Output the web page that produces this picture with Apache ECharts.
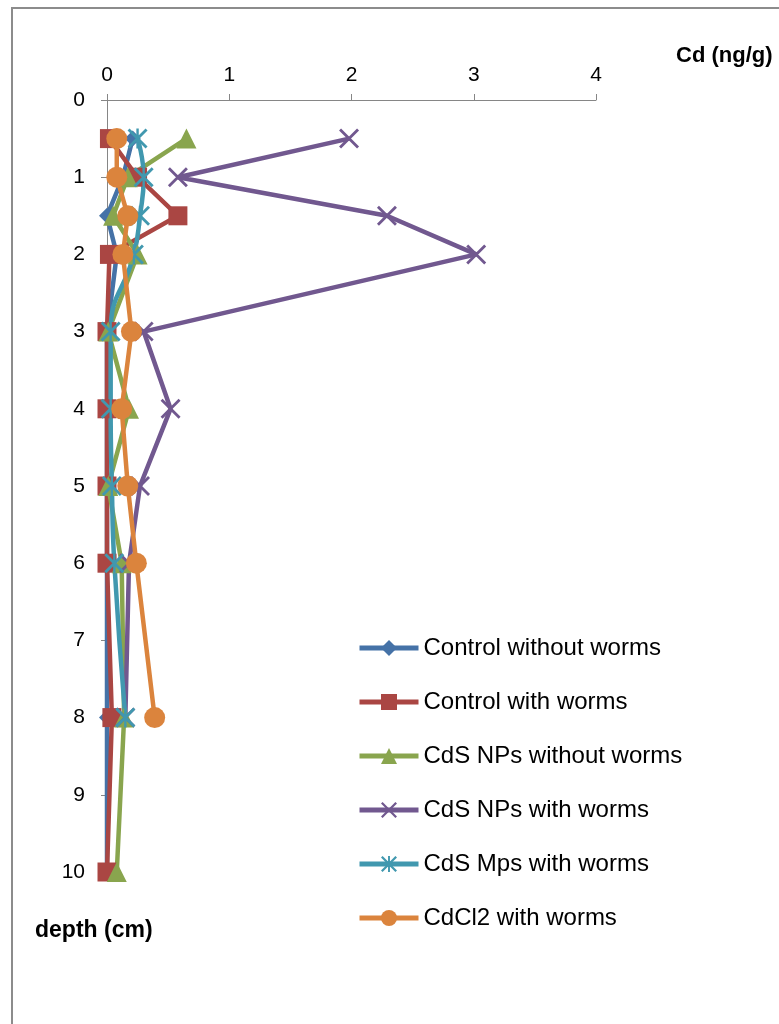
<!DOCTYPE html>
<html>
<head>
<meta charset="utf-8">
<script src="https://cdn.jsdelivr.net/npm/echarts@6/dist/echarts.min.js"></script>
<style>
  html, body { margin: 0; padding: 0; background: #fff; }
  #depthChart { width: 779px; height: 1024px; }
</style>
</head>
<body>
<div id="depthChart"></div>
<script>
// depth (cm) of each sampled layer
var depths = [0.5, 1, 1.5, 2, 3, 4, 5, 6, 8, 10]

// Cd (ng/g) per layer, one list per treatment
var controlWithout = [0.21, 0.13, 0, 0.08, 0, 0, 0, 0, 0, 0]
var controlWith = [0.02, 0.25, 0.58, 0.02, 0, 0, 0, 0, 0.04, 0]
var npsWithout = [0.65, 0.17, 0.05, 0.25, 0.01, 0.18, 0.01, 0.12, 0.14, 0.08]
var npsWith = [1.98, 0.58, 2.29, 3.02, 0.3, 0.52, 0.27, 0.18, 0.15]
var mpsWith = [0.25, 0.3, 0.27, 0.22, 0.03, 0.03, 0.04, 0.06, 0.15]
var cdcl2With = [0.08, 0.08, 0.17, 0.13, 0.2, 0.12, 0.17, 0.24, 0.39]

var seriesNames = [
  'Control without worms',
  'Control with worms',
  'CdS NPs without worms',
  'CdS NPs with worms',
  'CdS Mps with worms',
  'CdCl2 with worms'
]

var crossPath = 'path://M0,1L1,0L10,9L9,10Z M9,0L10,1L1,10L0,9Z'
var starPath = 'path://M0,1L1,0L10,9L9,10Z M9,0L10,1L1,10L0,9Z M4.4,0L5.6,0L5.6,10L4.4,10Z'

function pairs(values) {
  return values.map(function(v, i) {
    return [v, depths[i]]
  })
}

var myChart = echarts.init(document.getElementById('depthChart'))

function line(name, values, color, symbol, size, extra) {
  var s = {
    name: name,
    type: 'line',
    data: pairs(values),
    symbol: symbol,
    symbolSize: size,
    showAllSymbol: true,
    lineStyle: { color: color, width: 4.5 },
    itemStyle: { color: color },
    emphasis: { disabled: true }
  }
  if (extra) {
    for (var k in extra) s[k] = extra[k]
  }
  return s
}

option = {
  animation: false,
  textStyle: { fontFamily: 'Liberation Sans' },
  graphic: [
    {
      type: 'rect',
      shape: { x: 12, y: 8, width: 800, height: 1100 },
      style: { fill: 'none', stroke: '#8c8c8c', lineWidth: 2 },
      silent: true
    },
    {
      type: 'text',
      left: 676,
      top: 45,
      style: { text: 'Cd (ng/g)', font: 'bold 22px "Liberation Sans"', fill: '#000' }
    },
    {
      type: 'text',
      left: 35,
      top: 919,
      style: { text: 'depth (cm)', font: 'bold 23px "Liberation Sans"', fill: '#000' }
    }
  ],
  legend: {
    orient: 'vertical',
    left: 352,
    top: 631,
    itemWidth: 59,
    itemHeight: 20,
    itemGap: 30,
    data: seriesNames,
    lineStyle: { width: 5 },
    textStyle: { fontSize: 24, color: '#000', fontFamily: 'Liberation Sans' }
  },
  grid: {
    left: 107,
    right: 183,
    top: 100,
    bottom: 152
  },
  xAxis: {
    type: 'value',
    position: 'top',
    min: 0,
    max: 4,
    interval: 1,
    axisLine: { show: true, lineStyle: { color: '#868686', width: 1 } },
    axisTick: { show: true, length: 6, lineStyle: { color: '#868686' } },
    axisLabel: { color: '#000', fontSize: 21, margin: 14 },
    splitLine: { show: false }
  },
  yAxis: {
    type: 'value',
    inverse: true,
    min: 0,
    max: 10,
    interval: 1,
    axisLine: { show: true, onZero: false, lineStyle: { color: '#868686', width: 1 } },
    axisTick: { show: true, length: 6, lineStyle: { color: '#868686' } },
    axisLabel: { color: '#000', fontSize: 21, margin: 22 },
    splitLine: { show: false }
  },
  series: [
    line(seriesNames[0], controlWithout, '#4572A7', 'diamond', 16),
    line(seriesNames[1], controlWith, '#AA4643', 'rect', 19),
    line(seriesNames[2], npsWithout, '#89A54E', 'triangle', 20),
    line(seriesNames[3], npsWith, '#71588F', crossPath, 20),
    line(seriesNames[4], mpsWith, '#4198AF', starPath, 20, { smooth: true }),
    line(seriesNames[5], cdcl2With, '#DB843D', 'circle', 21)
  ]
}
myChart.setOption(option)
window.onresize = function() {
  myChart.resize()
}
</script>
</body>
</html>
